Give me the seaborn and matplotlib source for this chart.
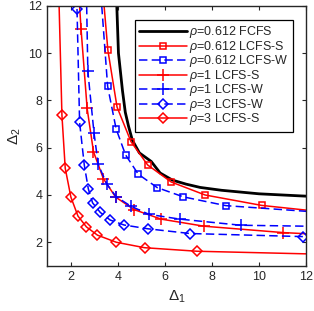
import matplotlib
matplotlib.use("Agg")
import matplotlib.pyplot as plt
import seaborn as sns

sns.set_style("ticks")
plt.rcParams['font.family'] = ['Liberation Sans', 'DejaVu Sans']
plt.rcParams['mathtext.fontset'] = 'custom'
plt.rcParams['mathtext.rm'] = 'Liberation Sans'
plt.rcParams['mathtext.it'] = 'Liberation Sans:italic'
plt.rcParams['xtick.direction'] = 'in'
plt.rcParams['ytick.direction'] = 'in'

# rho=0.612 FCFS (no markers)
fcfs_x = [3.96, 4.03, 4.20, 4.32, 4.46, 4.62, 4.92, 5.42, 5.80, 6.32, 6.90, 7.50, 8.40, 10.0, 12.0]
fcfs_y = [12.0, 10.0, 8.42, 7.50, 6.90, 6.32, 5.78, 5.42, 4.93, 4.63, 4.46, 4.32, 4.20, 4.05, 3.95]

# rho=0.612 LCFS-S / LCFS-W
r0612_s_x = [3.42, 3.58, 3.97, 4.56, 5.27, 6.27, 7.71, 10.11, 12.0]
r0612_s_y = [12.0, 10.13, 7.72, 6.26, 5.27, 4.55, 4.00, 3.56, 3.36]
r0612_w_x = [3.32, 3.57, 3.93, 4.33, 4.87, 5.68, 6.79, 8.59, 12.0]
r0612_w_y = [12.0, 8.60, 6.80, 5.70, 4.88, 4.31, 3.92, 3.55, 3.31]

# rho=1
r1_s_x = [2.38, 2.44, 2.70, 2.97, 3.39, 3.91, 4.70, 5.84, 7.66, 11.02, 12.0]
r1_s_y = [12.0, 11.04, 7.66, 5.83, 4.69, 3.91, 3.38, 2.98, 2.68, 2.41, 2.36]
r1_w_x = [2.68, 2.73, 2.99, 3.17, 3.53, 3.93, 4.55, 5.33, 6.63, 9.23, 12.0]
r1_w_y = [12.0, 9.24, 6.64, 5.30, 4.47, 3.93, 3.53, 3.18, 2.98, 2.72, 2.68]

# rho=3
r3_w_x = [2.27, 2.38, 2.58, 2.75, 2.93, 3.26, 3.68, 4.27, 5.28, 7.07, 11.86]
r3_w_y = [11.87, 7.07, 5.26, 4.26, 3.67, 3.26, 2.94, 2.73, 2.57, 2.37, 2.24]
r3_s_x = [1.51, 1.63, 1.77, 2.01, 2.31, 2.67, 3.14, 3.94, 5.14, 7.37, 12.0]
r3_s_y = [12.0, 7.37, 5.13, 3.91, 3.11, 2.65, 2.30, 2.00, 1.77, 1.62, 1.51]

ticks = [2, 4, 6, 8, 10, 12]

fig = plt.figure(figsize=(3.14, 3.11), dpi=100)
ax = fig.add_axes([0.150, 0.145, 0.825, 0.836])

dash = (0, (5.5, 2.8))
series = [
    (fcfs_x, fcfs_y, r'$\rho$=0.612 FCFS', 'black', '-', None, 0, 2.0, None),
    (r0612_s_x, r0612_s_y, r'$\rho$=0.612 LCFS-S', 'red', '-', 's', 5, 1.1, slice(1, -1)),
    (r0612_w_x, r0612_w_y, r'$\rho$=0.612 LCFS-W', 'blue', dash, 's', 5, 1.1, slice(1, -1)),
    (r1_s_x, r1_s_y, r'$\rho$=1 LCFS-S', 'red', '-', '+', 8, 1.1, slice(1, -1)),
    (r1_w_x, r1_w_y, r'$\rho$=1 LCFS-W', 'blue', dash, '+', 8, 1.1, slice(1, -1)),
    (r3_w_x, r3_w_y, r'$\rho$=3 LCFS-W', 'blue', dash, 'D', 5, 1.1, None),
    (r3_s_x, r3_s_y, r'$\rho$=3 LCFS-S', 'red', '-', 'D', 5, 1.1, slice(1, -1)),
]

for xs, ys, lab, col, ls, mk, ms, lw, every in series:
    kws = dict(color=col, linestyle=ls, linewidth=lw, label=lab)
    if mk is not None:
        kws.update(marker=mk, markersize=ms, markerfacecolor='none',
                   markeredgecolor=col, markeredgewidth=1.1, markevery=every)
    sns.lineplot(x=xs, y=ys, ax=ax, sort=False, estimator=None, **kws)

ax.set_xlim(1, 12)
ax.set_ylim(1, 12)
ax.set_xticks(ticks)
ax.set_yticks(ticks)
ax.tick_params(top=True, right=True, labelsize=9, length=3, width=0.8, colors='#262626')
for s in ax.spines.values():
    s.set_linewidth(1.0)
    s.set_color('#262626')
ax.set_xlabel(r'$\Delta_1$', fontsize=11, color='#262626')
ax.set_ylabel(r'$\Delta_2$', fontsize=11, color='#262626')

leg = ax.legend(loc='upper right', bbox_to_anchor=(0.95, 0.946), borderaxespad=0,
                fontsize=9, handlelength=3.8, labelspacing=-0.12, handleheight=0.6,
                fancybox=False, framealpha=1, edgecolor='black',
                handletextpad=0.2, borderpad=0.35)
leg.get_frame().set_linewidth(0.9)

fig.savefig('out.png', dpi=100)
